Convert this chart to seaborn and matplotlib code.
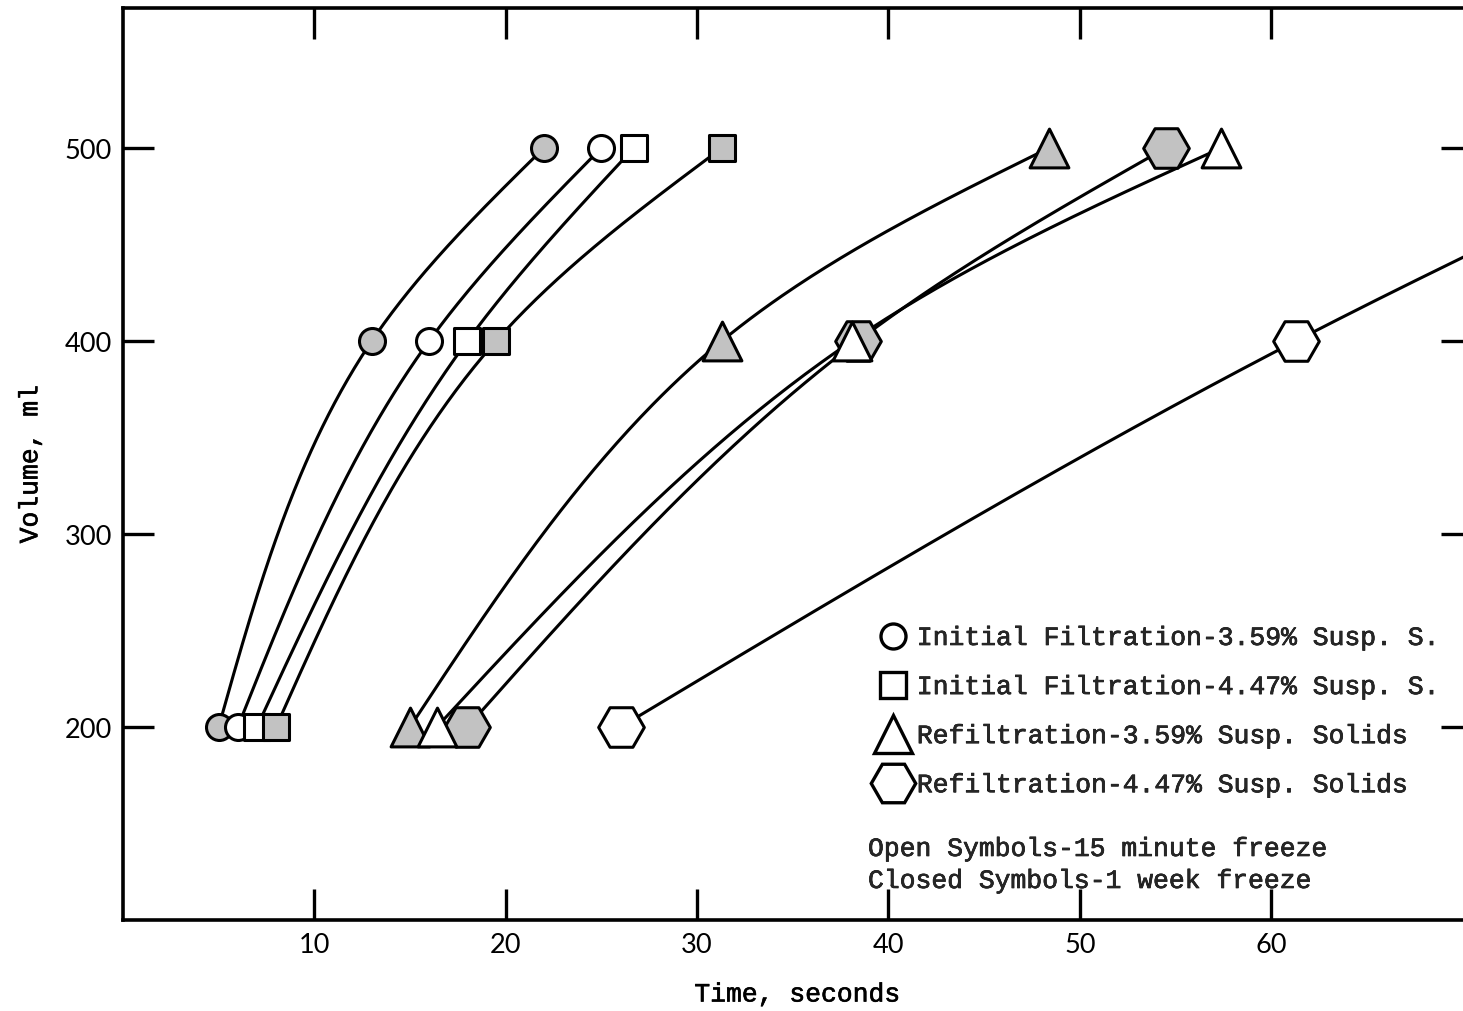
import numpy as np
import pandas as pd
import matplotlib
matplotlib.use("Agg")
import matplotlib.pyplot as plt
import matplotlib.patheffects as pe
from matplotlib.lines import Line2D
import seaborn as sns

# Filtration volume (ml) against elapsed time (s)
volume_ml = [200, 400, 500]

t_init_359_week = [5.0, 13.0, 22.0]     # closed circles
t_init_359_15min = [6.0, 16.0, 25.0]    # open circles
t_init_447_15min = [7.0, 18.0, 26.7]    # open squares
t_init_447_week = [8.0, 19.5, 31.3]     # closed squares
t_refil_359_week = [15.0, 31.3, 48.4]   # closed triangles
t_refil_359_15min = [16.4, 38.1, 57.4]  # open triangles
t_refil_447_week = [18.0, 38.4, 54.5]   # closed hexagons
t_refil_447_15min = [26.0, 61.3, 82.0]  # open hexagons

legend_labels = [
    "Initial Filtration-3.59% Susp. S.",
    "Initial Filtration-4.47% Susp. S.",
    "Refiltration-3.59% Susp. Solids",
    "Refiltration-4.47% Susp. Solids",
]
note_open = "Open Symbols-15 minute freeze"
note_closed = "Closed Symbols-1 week freeze"

x_ticks = [10, 20, 30, 40, 50, 60]
y_ticks = [200, 300, 400, 500]

OPEN = "white"
CLOSED = "#c2c2c2"

series = [
    (t_init_359_week, "o", 350, CLOSED),
    (t_init_359_15min, "o", 350, OPEN),
    (t_init_447_15min, "s", 360, OPEN),
    (t_init_447_week, "s", 360, CLOSED),
    (t_refil_359_week, "^", 780, CLOSED),
    (t_refil_447_week, "H", 1080, CLOSED),
    (t_refil_359_15min, "^", 780, OPEN),
    (t_refil_447_15min, "H", 1080, OPEN),
]

sns.set_theme(style="ticks")
plt.rcParams["font.family"] = ["Liberation Mono", "DejaVu Sans Mono"]
# slightly heavier typewriter strokes
TYPE_FX = [pe.withStroke(linewidth=0.45, foreground="black")]

W, H = 1463, 1012
fig = plt.figure(figsize=(W / 100, H / 100), dpi=100)
ax = fig.add_axes([123 / W, (H - 921) / H, (1472 - 123) / W, (921 - 9) / H])
ax.set_xlim(0, 70.5)
ax.set_ylim(100, 572.5)


def smooth_curve(ax, xs, ys, n=200):
    """Natural cubic spline through the points, parametrised by chord
    length in display space, returned in data coordinates."""
    pts = ax.transData.transform(np.column_stack([xs, ys]))
    d = np.hypot(*np.diff(pts, axis=0).T)
    s = np.concatenate([[0], np.cumsum(d)])
    m = len(s)
    h = np.diff(s)
    out = []
    for k in range(2):
        y = pts[:, k]
        A = np.zeros((m, m))
        b = np.zeros(m)
        A[0, 0] = A[-1, -1] = 1
        for i in range(1, m - 1):
            A[i, i - 1] = h[i - 1]
            A[i, i] = 2 * (h[i - 1] + h[i])
            A[i, i + 1] = h[i]
            b[i] = 6 * ((y[i + 1] - y[i]) / h[i] - (y[i] - y[i - 1]) / h[i - 1])
        M = np.linalg.solve(A, b)
        ss = np.linspace(0, s[-1], n)
        idx = np.clip(np.searchsorted(s, ss, side="right") - 1, 0, m - 2)
        s0, s1 = s[idx], s[idx + 1]
        hh = s1 - s0
        a = (s1 - ss) / hh
        c = (ss - s0) / hh
        val = (a * y[idx] + c * y[idx + 1]
               + ((a ** 3 - a) * M[idx] + (c ** 3 - c) * M[idx + 1]) * hh ** 2 / 6)
        out.append(val)
    curve = ax.transData.inverted().transform(np.column_stack(out))
    return curve[:, 0], curve[:, 1]


for t, marker, size, fill in series:
    cx, cy = smooth_curve(ax, t, volume_ml)
    sns.lineplot(x=cx, y=cy, ax=ax, sort=False, estimator=None,
                 color="black", lw=2.2, zorder=2)

for t, marker, size, fill in series:
    sns.scatterplot(x=t, y=volume_ml, ax=ax, marker=marker, s=size,
                    color=fill, edgecolor="black", linewidth=2.2,
                    zorder=3, clip_on=True, legend=False)

ax.set_xticks(x_ticks)
ax.set_yticks(y_ticks)
tick_font = {"family": "Lato", "size": 19.5}
ax.set_xticklabels([str(v) for v in x_ticks], fontdict=tick_font)
ax.set_yticklabels([str(v) for v in y_ticks], fontdict=tick_font)
ax.tick_params(direction="in", length=22, width=2.4, top=True, right=True,
               labeltop=False, labelright=False, colors="black")
ax.tick_params(axis="x", pad=9)
ax.tick_params(axis="y", pad=8)

for side in ["left", "top", "bottom"]:
    ax.spines[side].set_linewidth(2.6)
    ax.spines[side].set_color("black")
ax.spines["right"].set_visible(False)

ax.set_xlabel("Time, seconds", fontsize=19, labelpad=18, color="black",
              path_effects=TYPE_FX)
ax.set_ylabel("Volume, ml", fontsize=19, labelpad=16, color="black",
              path_effects=TYPE_FX)

handles = [
    Line2D([], [], ls="none", marker="o", ms=18, mfc="white", mec="black", mew=2.4),
    Line2D([], [], ls="none", marker="s", ms=19, mfc="white", mec="black", mew=2.4),
    Line2D([], [], ls="none", marker="^", ms=28, mfc="white", mec="black", mew=2.4),
    Line2D([], [], ls="none", marker="H", ms=32, mfc="white", mec="black", mew=2.4),
]
leg = ax.legend(handles, legend_labels, loc="upper left",
                bbox_to_anchor=((872 - 123) / (1472 - 123), (921 - 627) / 912),
                frameon=False, handlelength=1.6, handletextpad=0.1,
                borderpad=0, borderaxespad=0, labelspacing=0.95,
                prop={"size": 19})
for txt in leg.get_texts():
    txt.set_path_effects(TYPE_FX)

ax.text((868 - 123) / (1472 - 123), (921 - 850) / 912, note_open,
        transform=ax.transAxes, fontsize=19, va="center", ha="left",
        path_effects=TYPE_FX)
ax.text((868 - 123) / (1472 - 123), (921 - 882) / 912, note_closed,
        transform=ax.transAxes, fontsize=19, va="center", ha="left",
        path_effects=TYPE_FX)

fig.savefig("out.png", dpi=100, facecolor="white")
